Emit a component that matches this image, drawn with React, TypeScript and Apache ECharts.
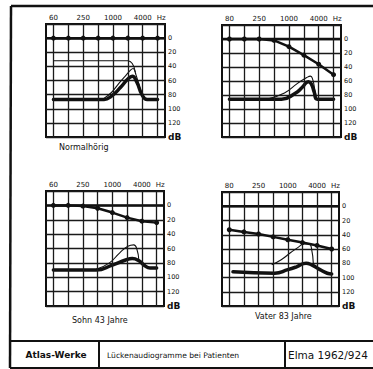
import React, { useEffect, useRef } from "react";
import * as echarts from "echarts";

// ---- data ----
const FREQ_LINES = [0, 1, 2, 3, 4, 5, 6, 7]; // octave index (60 Hz ... 8 kHz)
const FREQ_TICK_POS = [0, 2, 4, 6];
const FREQ_TEXT_A = ["60", "250", "1000", "4000"];
const FREQ_TEXT_B = ["80", "250", "1000", "4000"];
const HZ_POS = 7.25;
const DB_MIN = -20;
const DB_MAX = 140;
const DB_STEP = 20;
const PANEL_TITLES = ["Normalhörig", "", "Sohn 43 Jahre", "Vater 83 Jahre"];

const THRESH_1 = [0, 0, 0, 0, 0, 0, 0, 0];
const THRESH_2 = [0, 0, 0, 2, 11, 23, 36, 51];
const THRESH_3 = [0, 0, 1, 4, 10, 17, 22, 24];
const THRESH_4 = [33, 36, 39, 43, 47, 51, 55, 60];

const THICK_1 = [[0, 87], [3.4, 87], [3.9, 82], [4.5, 70], [5.0, 58], [5.3, 54], [5.6, 62], [5.95, 80], [6.3, 87], [7, 87]];
const THIN_1 = [[3.35, 86], [3.9, 77], [4.4, 64], [4.9, 52], [5.2, 45], [5.35, 43], [5.55, 52], [5.85, 73], [6.1, 85]];
const PLATEAU_1 = [[0, 32], [5.0, 32], [5.3, 36], [5.5, 48]];

const THICK_2 = [[0, 86], [3.5, 86], [4.4, 78], [4.9, 69], [5.3, 61], [5.5, 64], [5.7, 76], [5.9, 86], [7, 86]];
const THIN_2 = [[2.5, 86], [3.7, 77], [4.6, 63], [5.2, 55], [5.45, 53], [5.6, 58], [5.72, 70], [5.85, 85]];

const THICK_3 = [[0, 90], [2.9, 90], [4, 83], [4.9, 76], [5.35, 74], [5.8, 77], [6.2, 84], [6.55, 87], [7, 87]];
const THIN_3 = [[2.9, 89], [3.8, 80], [4.5, 66], [5.05, 57], [5.45, 55], [5.65, 60], [5.8, 77]];

const THICK_4 = [[0.25, 92], [3.1, 94], [4, 89], [4.6, 85], [5.25, 80], [5.6, 82], [6.2, 89], [6.7, 94], [7, 95]];
const THIN_4 = [[2.9, 82], [3.55, 75], [4.2, 65], [4.75, 57], [5.1, 53], [5.45, 53], [5.6, 57], [5.75, 82]];

const FOOTER_TEXTS = ["Atlas-Werke", "Lückenaudiogramme bei Patienten", "Elma 1962/924"];

// ---- layout / style ----
const INK = "#111";
const FONT = "DejaVu Sans, Liberation Sans, sans-serif";
const GRIDS = [
  { left: 46, top: 24, width: 119, height: 113 },
  { left: 222, top: 25, width: 119, height: 112 },
  { left: 46, top: 191, width: 118, height: 115 },
  { left: 222, top: 192, width: 117, height: 114 },
];
const TITLE_POS = [
  [59, 147],
  [0, 0],
  [72, 320],
  [255, 316],
];

const PANELS = [
  { thresh: THRESH_1, thick: THICK_1, thin: [THIN_1, PLATEAU_1], freq: FREQ_TEXT_A },
  { thresh: THRESH_2, thick: THICK_2, thin: [THIN_2], freq: FREQ_TEXT_B },
  { thresh: THRESH_3, thick: THICK_3, thin: [THIN_3], freq: FREQ_TEXT_A },
  { thresh: THRESH_4, thick: THICK_4, thin: [THIN_4], freq: FREQ_TEXT_B },
];

function buildOption() {
  const grid = GRIDS.map((g) => ({
    ...g,
    show: true,
    borderColor: INK,
    borderWidth: 2,
    backgroundColor: "transparent",
  }));
  const xAxis = PANELS.map((p, i) => ({
    gridIndex: i,
    type: "value",
    position: "top",
    min: -0.5,
    max: 7.5,
    interval: 0.25,
    axisLine: { show: false },
    axisTick: { show: false },
    splitLine: { show: false },
    axisLabel: {
      margin: 3,
      fontSize: 7,
      color: INK,
      fontFamily: FONT,
      showMinLabel: false,
      showMaxLabel: false,
      formatter: (v: number) => {
        const k = FREQ_TICK_POS.indexOf(v);
        if (k >= 0) return p.freq[k];
        if (Math.abs(v - HZ_POS) < 1e-6) return "Hz";
        return "";
      },
    },
  }));
  const yAxis = PANELS.map((_, i) => ({
    gridIndex: i,
    type: "value",
    position: "right",
    inverse: true,
    min: DB_MIN,
    max: DB_MAX,
    interval: DB_STEP,
    axisLine: { show: false },
    axisTick: { show: false },
    splitLine: { show: true, lineStyle: { color: "#1a1a1a", width: 1.3 } },
    axisLabel: {
      margin: 3,
      fontSize: 6.5,
      color: INK,
      fontFamily: FONT,
      formatter: (v: number) => (v === DB_MAX ? "{db|dB}" : v === DB_MIN ? "" : String(v)),
      rich: { db: { fontSize: 9, fontWeight: "bold", color: INK, fontFamily: FONT } },
    },
  }));

  const series: any[] = [];
  PANELS.forEach((p, i) => {
    series.push({
      type: "line",
      xAxisIndex: i,
      yAxisIndex: i,
      data: FREQ_LINES.map((f, k) => [f, p.thresh[k]]),
      symbol: "circle",
      symbolSize: 5,
      itemStyle: { color: INK },
      lineStyle: { color: INK, width: 2.5 },
      z: 5,
      markLine: {
        silent: true,
        symbol: ["none", "none"],
        label: { show: false },
        lineStyle: { color: "#1a1a1a", width: 1.3, type: "solid" },
        data: FREQ_LINES.map((f) => ({ xAxis: f })),
      },
    });
    series.push({
      type: "line",
      xAxisIndex: i,
      yAxisIndex: i,
      data: [[-0.5, 0], [7.5, 0]],
      symbol: "none",
      lineStyle: { color: INK, width: 2.5 },
      z: 3,
    });
    series.push({
      type: "line",
      xAxisIndex: i,
      yAxisIndex: i,
      data: p.thick,
      symbol: "none",
      smooth: 0.5,
      lineStyle: { color: INK, width: 3.5, cap: "round", join: "round" },
      z: 4,
    });
    p.thin.forEach((t) => {
      series.push({
        type: "line",
        xAxisIndex: i,
        yAxisIndex: i,
        data: t,
        symbol: "none",
        smooth: 0.5,
        lineStyle: { color: INK, width: 1.1 },
        z: 4,
      });
    });
  });

  const graphic: any[] = [
    // outer frame
    { type: "line", shape: { x1: 11, y1: 6, x2: 373, y2: 6 }, style: { stroke: INK, lineWidth: 2.5 } },
    { type: "line", shape: { x1: 11, y1: 6, x2: 10, y2: 368 }, style: { stroke: INK, lineWidth: 2.5 } },
    { type: "line", shape: { x1: 10, y1: 341, x2: 373, y2: 341 }, style: { stroke: INK, lineWidth: 2 } },
    { type: "line", shape: { x1: 10, y1: 368, x2: 373, y2: 368 }, style: { stroke: INK, lineWidth: 2 } },
    { type: "line", shape: { x1: 99, y1: 341, x2: 99, y2: 368 }, style: { stroke: INK, lineWidth: 2 } },
    { type: "line", shape: { x1: 285, y1: 341, x2: 285, y2: 368 }, style: { stroke: INK, lineWidth: 2 } },
    {
      type: "text",
      x: 56,
      y: 355,
      style: { text: FOOTER_TEXTS[0], fontSize: 9, fontWeight: "bold", fill: INK, fontFamily: FONT, align: "center", verticalAlign: "middle" },
    },
    {
      type: "text",
      x: 107,
      y: 355,
      style: { text: FOOTER_TEXTS[1], fontSize: 7.6, fill: INK, fontFamily: FONT, align: "left", verticalAlign: "middle" },
    },
    {
      type: "text",
      x: 288,
      y: 355,
      style: { text: FOOTER_TEXTS[2], fontSize: 10.5, fill: INK, fontFamily: FONT, align: "left", verticalAlign: "middle" },
    },
  ];
  PANEL_TITLES.forEach((t, i) => {
    if (!t) return;
    graphic.push({
      type: "text",
      x: TITLE_POS[i][0],
      y: TITLE_POS[i][1],
      style: { text: t, fontSize: 8, fill: INK, fontFamily: FONT, align: "left", verticalAlign: "middle" },
    });
  });

  return {
    animation: false,
    backgroundColor: "#fff",
    grid,
    xAxis,
    yAxis,
    series,
    graphic,
  };
}

export default function App() {
  const ref = useRef<HTMLDivElement>(null);
  useEffect(() => {
    if (!ref.current) return;
    const chart = echarts.init(ref.current, undefined, { renderer: "svg" });
    chart.setOption(buildOption() as any);
    return () => chart.dispose();
  }, []);
  return (
    <div
      ref={ref}
      style={{ position: "absolute", left: 0, top: 0, width: 373, height: 369, background: "#fff" }}
    />
  );
}
